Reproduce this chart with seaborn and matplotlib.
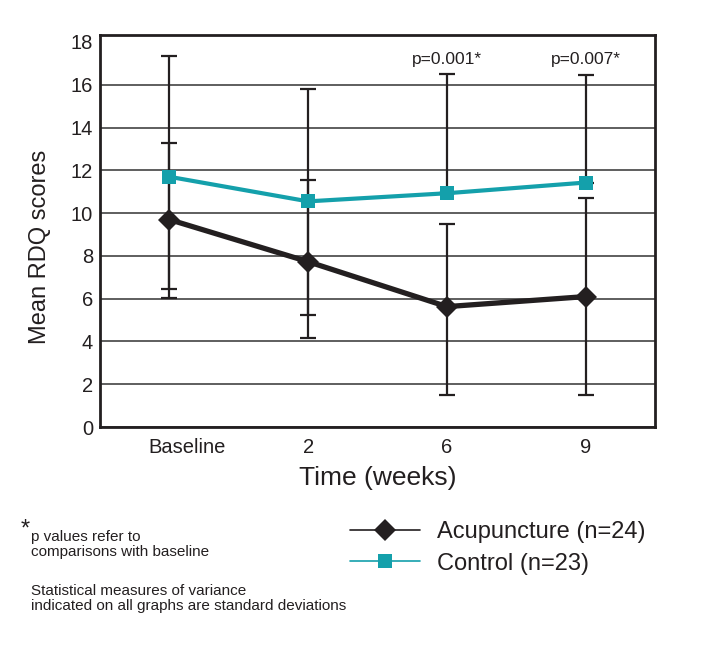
import pandas as pd
import seaborn as sns
import matplotlib.pyplot as plt
from matplotlib.lines import Line2D
from matplotlib.transforms import ScaledTranslation

# Data
times = ["Baseline", "2", "6", "9"]
acu_mean = [9.7, 7.73, 5.63, 6.1]
acu_low = [6.44, 4.15, 1.52, 1.52]
acu_high = [13.27, 11.55, 9.48, 10.72]
ctrl_mean = [11.7, 10.55, 10.93, 11.43]
# lower bars at weeks 6 and 9 are not visible in the source
ctrl_low = [6.02, 5.24, 10.93, 11.43]
ctrl_high = [17.35, 15.79, 16.5, 16.45]
p_labels = ["", "", "p=0.001*", "p=0.007*"]

groups = ["Acupuncture (n=24)", "Control (n=23)"]
black = "#231f20"
teal = "#14a0ab"

df = pd.DataFrame({
    "time": times * 2,
    "score": acu_mean + ctrl_mean,
    "group": [groups[0]] * 4 + [groups[1]] * 4,
})

sns.set_style("white")
plt.rcParams["font.family"] = ["Liberation Sans", "DejaVu Sans"]
fig = plt.figure(figsize=(7.03, 6.51), dpi=100)
ax = fig.add_axes([0.142, 0.344, 0.790, 0.603])

# error bars (standard deviations), drawn under the lines
for mean, lo, hi in [(ctrl_mean, ctrl_low, ctrl_high), (acu_mean, acu_low, acu_high)]:
    err = [[m - l for m, l in zip(mean, lo)], [h - m for m, h in zip(mean, hi)]]
    ax.errorbar(times, mean, yerr=err, fmt="none", ecolor=black, elinewidth=1.6,
                capsize=6, capthick=1.6, zorder=2)

sns.lineplot(data=df, x="time", y="score", hue="group", style="group",
             palette={groups[0]: black, groups[1]: teal},
             markers={groups[0]: "D", groups[1]: "s"}, dashes=False,
             markersize=10, markeredgewidth=0, legend=False, ax=ax, zorder=3)
ax.lines[-2].set_linewidth(3.8)
ax.lines[-2].set_markersize(11)
ax.lines[-1].set_linewidth(3.0)

for x, lab in zip(times, p_labels):
    if lab:
        ax.text(x, 16.85, lab, ha="center", va="bottom", fontsize=12.5, color=black)

ax.set_xlim(-0.5, 3.5)
ax.set_ylim(0, 18.35)
ax.set_yticks(range(0, 19, 2))
ax.grid(axis="y", color="#333333", linewidth=1.1, zorder=0)
ax.yaxis.get_gridlines()[-1].set_visible(False)
ax.set_axisbelow(True)
for s in ax.spines.values():
    s.set_color(black)
    s.set_linewidth(2)

ax.tick_params(axis="x", which="major", length=0, pad=8, labelsize=14.5, labelcolor=black)
ax.set_xticks([0.5, 1.5, 2.5], minor=True)
ax.tick_params(axis="x", which="minor", length=5, width=1, color=black, direction="out")
ax.tick_params(axis="y", length=0, pad=5, labelsize=14.5, labelcolor=black)
base_lab = ax.get_xticklabels()[0]
base_lab.set_transform(base_lab.get_transform() + ScaledTranslation(0.18, 0, fig.dpi_scale_trans))

ax.set_xlabel("Time (weeks)", fontsize=19, color=black, labelpad=6)
ax.set_ylabel("Mean RDQ scores", fontsize=17, color=black)
ax.yaxis.set_label_coords(-0.088, 0.46)

# legend with thin lines
handles = [
    Line2D([], [], color=black, lw=1.2, marker="D", markersize=11, markeredgewidth=0),
    Line2D([], [], color=teal, lw=1.2, marker="s", markersize=10, markeredgewidth=0),
]
leg = fig.legend(handles, groups, loc="upper left", bbox_to_anchor=(0.467, 0.232),
                 frameon=False, handlelength=3.0, handletextpad=0.72, labelspacing=0.4,
                 prop={"size": 17})
for t in leg.get_texts():
    t.set_color(black)

# footnotes
fig.text(0.029, 0.186, "*", fontsize=17, color=black, va="center")
fig.text(0.044, 0.164, "p values refer to\ncomparisons with baseline", fontsize=11,
         color=black, va="center", linespacing=1.1)
fig.text(0.044, 0.081, "Statistical measures of variance\nindicated on all graphs are standard deviations",
         fontsize=11, color=black, va="center", linespacing=1.1)

fig.savefig("out.png", dpi=100)
